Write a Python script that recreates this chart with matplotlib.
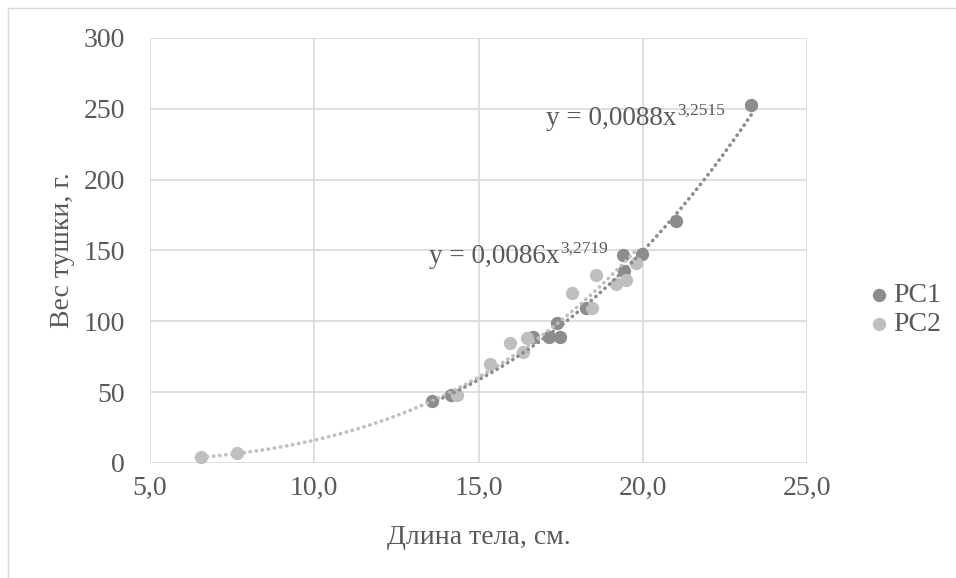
import numpy as np
import matplotlib
matplotlib.use("Agg")
import matplotlib.pyplot as plt
from matplotlib.patches import Rectangle

# ---- data ----
pc1_x = [13.57, 14.15, 16.67, 17.16, 17.48, 17.38, 18.26, 19.40, 19.42, 19.97, 21.00, 23.30]
pc1_y = [44.0, 48.0, 89.0, 89.0, 89.0, 99.0, 109.2, 146.8, 135.5, 147.5, 171.0, 252.6]
pc2_x = [6.56, 7.64, 14.36, 15.35, 15.96, 16.36, 16.48, 17.86, 18.46, 18.57, 19.19, 19.48, 19.79]
pc2_y = [4.5, 6.8, 48.0, 70.0, 85.0, 78.0, 88.0, 120.3, 109.2, 132.5, 126.2, 129.0, 141.2]
pc1_coef, pc1_exp = 0.0088, 3.2515
pc2_coef, pc2_exp = 0.0086, 3.2719
x_ticks = [5.0, 10.0, 15.0, 20.0, 25.0]
y_ticks = [0, 50, 100, 150, 200, 250, 300]
series_names = ["PC1", "PC2"]
eq1_base, eq1_sup = "y = 0,0088x", "3,2515"
eq2_base, eq2_sup = "y = 0,0086x", "3,2719"
x_label = "Длина тела, см."
y_label = "Вес тушки, г."

# ---- style ----
FONT = ["Liberation Serif", "DejaVu Serif"]
plt.rcParams["font.family"] = FONT
TXT = "#595959"
GRID = "#d9d9d9"
C1 = "#8c8c8c"
C2 = "#bfbfbf"
FS = 20

W, H = 956, 578
fig = plt.figure(figsize=(W / 100, H / 100), dpi=100)
ax = fig.add_axes([150 / W, 1 - 463 / H, (807 - 150) / W, (463 - 38) / H])

# chart-area border (only top/left visible in the crop)
fig.patches.append(Rectangle((8 / W, -0.1), 1.2, (1 - 8 / H) + 0.1, transform=fig.transFigure,
                             fill=False, edgecolor=GRID, linewidth=1.0))

ax.set_xlim(x_ticks[0], x_ticks[-1])
ax.set_ylim(y_ticks[0], y_ticks[-1])
ax.set_xticks(x_ticks)
ax.set_yticks(y_ticks)
ax.set_xticklabels([f"{v:.1f}".replace(".", ",") for v in x_ticks])
ax.set_yticklabels([str(v) for v in y_ticks])
ax.grid(True, color=GRID, linewidth=1.2)
ax.set_axisbelow(True)
for s in ax.spines.values():
    s.set_visible(False)
ax.tick_params(length=0, labelsize=FS, colors=TXT)
ax.tick_params(axis="y", pad=18)
ax.tick_params(axis="x", pad=9)

ms = 92
ax.scatter(pc1_x, pc1_y, s=ms, color=C1, linewidths=0, zorder=3, label=series_names[0])
ax.scatter(pc2_x, pc2_y, s=ms, color=C2, linewidths=0, zorder=3, label=series_names[1])

# trendlines (power)
dot = (0, (0.1, 1.6))
xs2 = np.linspace(min(pc2_x), max(pc2_x), 200)
ax.plot(xs2, pc2_coef * xs2 ** pc2_exp, color=C2, lw=2.6, linestyle=dot,
        dash_capstyle="round", zorder=4)
xs1 = np.linspace(min(pc1_x), max(pc1_x), 200)
ax.plot(xs1, pc1_coef * xs1 ** pc1_exp, color=C1, lw=2.6, linestyle=dot,
        dash_capstyle="round", zorder=4)

# equations
def equation(xd, yd, base, sup):
    ax.text(xd, yd, base, ha="right", va="baseline", fontsize=19.5, color=TXT, zorder=5)
    ax.annotate(sup, (xd, yd), xytext=(0, 7.5), textcoords="offset points",
                ha="left", va="baseline", fontsize=12.5, color=TXT, zorder=5)

equation(21.04, 238.5, eq1_base, eq1_sup)
equation(17.48, 141.1, eq2_base, eq2_sup)

ax.set_xlabel(x_label, fontsize=FS, color=TXT, labelpad=18)
ax.set_ylabel(y_label, fontsize=FS, color=TXT, labelpad=6)

leg = ax.legend(loc="center left", bbox_to_anchor=(872 / W, 1 - 310 / H),
                bbox_transform=fig.transFigure, frameon=False, fontsize=FS,
                handlelength=0.5, handletextpad=0.25, labelspacing=0.12,
                borderaxespad=0, borderpad=0, scatterpoints=1)
for t in leg.get_texts():
    t.set_color(TXT)

fig.savefig("out.png", dpi=100)
